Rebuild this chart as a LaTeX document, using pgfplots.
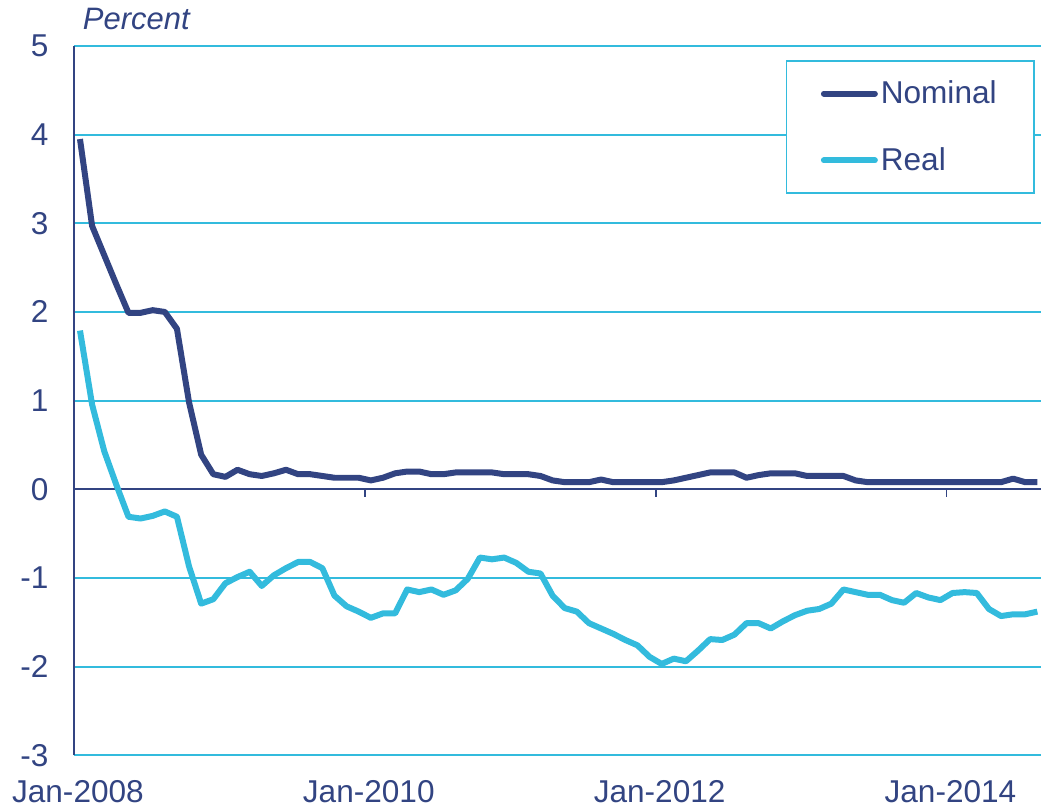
\documentclass[border=0pt]{standalone}
\usepackage{pgfplots}
\pgfplotsset{compat=1.18}
\usepackage{pgfplotstable}
\usepackage{fontspec}
\setmainfont{Liberation Sans}
\definecolor{navy}{RGB}{50,68,130}
\definecolor{sky}{RGB}{51,187,221}

% monthly rates, Jan-2008 = 0.5
\pgfplotstableread{
x nominal real
0.5 3.95 1.79
1.5 2.97 0.955
2.5 2.64 0.43
3.5 2.31 0.05
4.5 1.99 -0.31
5.5 1.99 -0.33
6.5 2.02 -0.30
7.5 2.00 -0.25
8.5 1.81 -0.31
9.5 0.98 -0.87
10.5 0.39 -1.29
11.5 0.17 -1.24
12.5 0.14 -1.06
13.5 0.22 -0.99
14.5 0.17 -0.93
15.5 0.15 -1.09
16.5 0.18 -0.97
17.5 0.22 -0.89
18.5 0.17 -0.82
19.5 0.17 -0.82
20.5 0.15 -0.89
21.5 0.13 -1.20
22.5 0.13 -1.32
23.5 0.13 -1.38
24.5 0.10 -1.45
25.5 0.13 -1.40
26.5 0.18 -1.40
27.5 0.20 -1.13
28.5 0.20 -1.16
29.5 0.17 -1.13
30.5 0.17 -1.19
31.5 0.19 -1.14
32.5 0.19 -1.01
33.5 0.19 -0.77
34.5 0.19 -0.79
35.5 0.17 -0.77
36.5 0.17 -0.83
37.5 0.17 -0.93
38.5 0.15 -0.95
39.5 0.10 -1.20
40.5 0.08 -1.34
41.5 0.08 -1.38
42.5 0.08 -1.51
43.5 0.11 -1.57
44.5 0.08 -1.63
45.5 0.08 -1.70
46.5 0.08 -1.76
47.5 0.08 -1.89
48.5 0.08 -1.97
49.5 0.10 -1.91
50.5 0.13 -1.94
51.5 0.16 -1.82
52.5 0.19 -1.69
53.5 0.19 -1.70
54.5 0.19 -1.64
55.5 0.13 -1.51
56.5 0.16 -1.51
57.5 0.18 -1.57
58.5 0.18 -1.49
59.5 0.18 -1.42
60.5 0.15 -1.37
61.5 0.15 -1.35
62.5 0.15 -1.29
63.5 0.15 -1.13
64.5 0.10 -1.16
65.5 0.08 -1.19
66.5 0.08 -1.19
67.5 0.08 -1.25
68.5 0.08 -1.28
69.5 0.08 -1.17
70.5 0.08 -1.22
71.5 0.08 -1.25
72.5 0.08 -1.17
73.5 0.08 -1.16
74.5 0.08 -1.17
75.5 0.08 -1.35
76.5 0.08 -1.43
77.5 0.12 -1.41
78.5 0.08 -1.41
79.5 0.08 -1.38
}\rates

\begin{document}
\begin{tikzpicture}
\begin{axis}[
  scale only axis, width=484pt, height=355pt,
  xmin=0, xmax=79.8, ymin=-3, ymax=5,
  ytick={-3,-2,...,5}, xtick={0,24,48,72},
  xticklabels={Jan-2008,Jan-2010,Jan-2012,Jan-2014},
  axis x line*=bottom, axis y line*=left,
  x axis line style={draw=none},
  y axis line style={navy, line width=0.9pt},
  tick style={draw=none},
  ymajorgrids, major grid style={sky, line width=1pt},
  /pgf/number format/assume math mode=true,
  tick label style={font=\fontsize{15.8}{19}\selectfont, text=navy},
  yticklabel style={xshift=-9.2pt},
  xticklabel style={yshift=-9pt, xshift=2pt},
  clip=false,
  legend cell align=left,
  legend image code/.code={\draw[#1, line cap=round] (0pt,0pt) -- (25.5pt,0pt);},
  legend style={at={(rel axis cs:0.9938,0.980)}, anchor=north east,
    draw=sky, line width=0.9pt, fill=white, text=navy,
    font=\fontsize{15.8}{19}\selectfont,
    inner xsep=17.25pt, inner ysep=8.3pt, row sep=17.5pt, column sep=0pt,
    nodes={inner sep=1.5pt}},
]
\draw[navy, line width=0.9pt] (axis cs:0,0) -- (axis cs:79.8,0);
\pgfplotsinvokeforeach{0,24,48,72}{\draw[navy, line width=0.9pt] (axis cs:#1,0) -- ([yshift=-4pt]axis cs:#1,0);}
\addplot[navy, line width=3pt, line join=round] table[x=x, y=nominal] {\rates};
\addlegendentry{Nominal}
\addplot[sky, line width=3pt, line join=round] table[x=x, y=real] {\rates};
\addlegendentry{Real}
\node[anchor=base west, font=\fontsize{15.5}{19}\selectfont\itshape, text=navy]
  at (rel axis cs:0,1) [xshift=1pt, yshift=8pt] {Percent};
\path (rel axis cs:0,0) ++(-37pt,-26.5pt) rectangle ++(521pt,404.5pt);
\end{axis}
\end{tikzpicture}
\end{document}
